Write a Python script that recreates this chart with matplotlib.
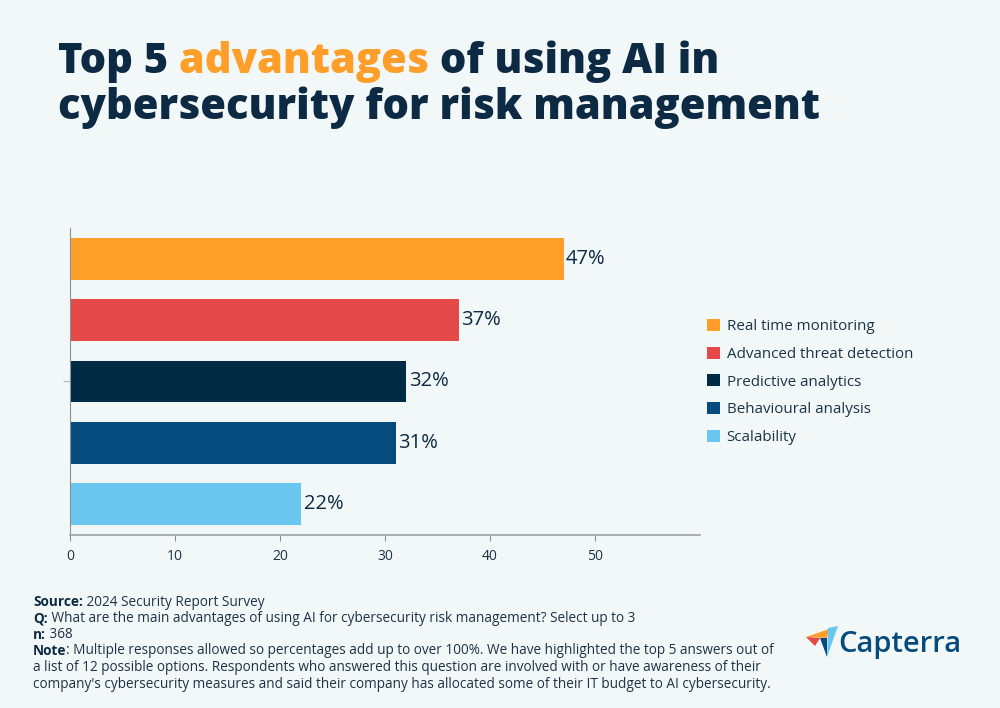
import numpy as np
import matplotlib
matplotlib.use("Agg")
import matplotlib.pyplot as plt
from matplotlib.patches import Polygon

plt.rcParams['font.family'] = ['Open Sans', 'DejaVu Sans']

# data
categories = ["Real time monitoring", "Advanced threat detection",
              "Predictive analytics", "Behavioural analysis", "Scalability"]
values = [47, 37, 32, 31, 22]
colors = ["#ff9e28", "#e54848", "#002b45", "#054b7d", "#69c6ee"]
xticks = [0, 10, 20, 30, 40, 50]

BG = "#f2f7f7"
NAVY = "#0d2a44"
TXT = "#1d3347"

fig = plt.figure(figsize=(10, 7.08), dpi=100, facecolor=BG)
ax = fig.add_axes([0.07, 0.2444, 0.63, 0.4336])
ax.set_facecolor(BG)

ypos = np.arange(len(categories))
for y, v, c, lab in zip(ypos, values, colors, categories):
    ax.barh(y, v, height=0.68, color=c, label=lab)
    ax.text(v + 0.25, y, f"{v}%", va="center", ha="left", fontsize=14.5, color=NAVY)

ax.set_xlim(0, 60)
ax.set_ylim(len(categories) - 0.5, -0.5)
ax.set_xticks(xticks)
ax.set_xticklabels([str(t) for t in xticks], fontsize=10, color=TXT)
ax.set_yticks([2])
ax.set_yticklabels([""])
ax.tick_params(axis="x", length=4, color="#8a9299", pad=6)
ax.tick_params(axis="y", length=5, color="#b0b6bb")
for s in ["top", "right"]:
    ax.spines[s].set_visible(False)
ax.spines["left"].set_color("#8a9299")
ax.spines["bottom"].set_color("#9aa1a7")
ax.spines["left"].set_linewidth(0.8)
ax.spines["bottom"].set_linewidth(1.2)

leg = fig.legend(loc="center left", bbox_to_anchor=(0.707, 1 - 382 / 708),
                 frameon=False, fontsize=10.9, handlelength=0.85, handleheight=0.85,
                 handletextpad=0.45, labelspacing=0.82, borderpad=0, borderaxespad=0)
for t in leg.get_texts():
    t.set_color(TXT)

# title with highlighted word
TS = 30
t1 = fig.text(0.058, 1 - 73 / 708, "Top 5", fontsize=TS, fontweight=800,
              color=NAVY, va="baseline")
t2 = ax.annotate(" advantages", xy=(1, 0), xycoords=t1, va="bottom", ha="left",
                 fontsize=TS, fontweight=800, color="#ff9e28", annotation_clip=False)
t3 = ax.annotate(" of using AI in", xy=(1, 0), xycoords=t2, va="bottom", ha="left",
                 fontsize=TS, fontweight=800, color=NAVY, annotation_clip=False)
fig.text(0.058, 1 - 119 / 708, "cybersecurity for risk management", fontsize=TS,
         fontweight=800, color=NAVY, va="baseline")

# footer
footer = [
    ("Source:", " 2024 Security Report Survey"),
    ("Q:", " What are the main advantages of using AI for cybersecurity risk management? Select up to 3"),
    ("n:", " 368"),
    ("Note", ": Multiple responses allowed so percentages add up to over 100%. We have highlighted the top 5 answers out of"),
    ("", "a list of 12 possible options. Respondents who answered this question are involved with or have awareness of their"),
    ("", "company's cybersecurity measures and said their company has allocated some of their IT budget to AI cybersecurity."),
]
FS = 9.8
y0 = 606.5
for i, (b, r) in enumerate(footer):
    yy = 1 - (y0 + i * 16.2) / 708
    if b:
        tb = fig.text(0.033, yy, b, fontsize=FS, fontweight="bold", color=NAVY, va="baseline")
        ax.annotate(r, xy=(1, 0), xycoords=tb, va="bottom", ha="left",
                    fontsize=FS, color=TXT, annotation_clip=False)
    else:
        fig.text(0.033, yy, r, fontsize=FS, color=TXT, va="baseline")

# Capterra logo
def px(pts):
    return [(x / 1000, 1 - y / 708) for x, y in pts]

logo = [
    ([(806, 637), (829, 629), (827, 638)], "#ff9e28"),
    ([(806, 637), (820, 638), (815, 646)], "#e54848"),
    ([(820, 638), (827, 638), (827, 657)], "#054b7d"),
    ([(828, 628), (838, 626), (827, 657)], "#69c6ee"),
]
for pts, c in logo:
    fig.patches.append(Polygon(px(pts), closed=True, facecolor=c, edgecolor="none",
                               transform=fig.transFigure, figure=fig))
fig.text(0.838, 1 - 652 / 708, "Capterra", fontsize=21, fontweight="semibold",
         color="#054b7d", va="baseline")

fig.savefig("out.png", dpi=100, facecolor=BG)
